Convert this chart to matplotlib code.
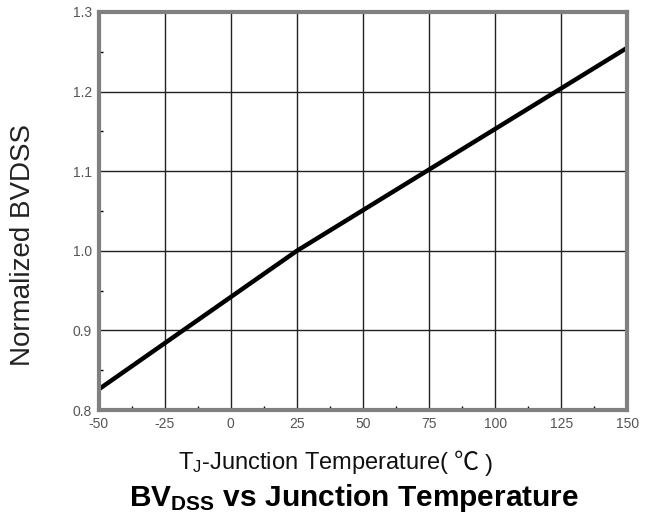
import matplotlib
import matplotlib.pyplot as plt
from matplotlib.ticker import MultipleLocator

matplotlib.use("Agg")

plt.rcParams["font.family"] = ["Liberation Sans", "Noto Sans CJK SC", "DejaVu Sans"]
plt.rcParams["mathtext.fontset"] = "custom"
plt.rcParams["mathtext.rm"] = "Liberation Sans"
plt.rcParams["mathtext.it"] = "Liberation Sans"
plt.rcParams["mathtext.bf"] = "Liberation Sans:bold"

# junction temperature (C) and normalized breakdown voltage
temps = [-50, -25, 0, 25, 50, 75, 100, 125, 150]
bvdss = [0.826, 0.884, 0.942, 1.0, 1.051, 1.102, 1.153, 1.204, 1.255]

x_ticks = [-50, -25, 0, 25, 50, 75, 100, 125, 150]
y_ticks = [0.8, 0.9, 1.0, 1.1, 1.2, 1.3]

fig = plt.figure(figsize=(6.54, 5.2), dpi=100)
ax = fig.add_axes([0.151, 0.2115, 0.808, 0.7655])

ax.plot(temps, bvdss, color="black", linewidth=3.2, solid_capstyle="butt")

ax.set_xlim(-50, 150)
ax.set_ylim(0.8, 1.3)
ax.set_xticks(x_ticks)
ax.set_yticks(y_ticks)
ax.set_xticklabels([str(t) for t in x_ticks])
ax.set_yticklabels([f"{v:.1f}" for v in y_ticks])
ax.xaxis.set_minor_locator(MultipleLocator(12.5))
ax.yaxis.set_minor_locator(MultipleLocator(0.05))

ax.grid(True, which="major", color="#222222", linewidth=1.0)
ax.tick_params(which="major", length=0, pad=5, labelsize=10, labelcolor="#555555")
ax.tick_params(which="minor", direction="in", length=3, width=1, color="black")

for side in ["left", "bottom", "top", "right"]:
    ax.spines[side].set_color("#808080")
    ax.spines[side].set_linewidth(3)

# y label
fig.text(0.035, 0.529, "Normalized BVDSS", rotation=90, ha="center", va="center",
         fontsize=20, color="#222222")

# x label, split so the degree sign can come from a CJK font
part1 = fig.text(0.272, 0.11, r"T$_\mathrm{J}$-Junction Temperature(",
                 ha="left", va="center", fontsize=17, color="#111111")
part2 = ax.annotate("℃", xy=(1, 0), xycoords=part1, xytext=(5, 0),
                    textcoords="offset pixels", ha="left", va="bottom",
                    fontsize=18, color="#111111", family=["Noto Sans CJK SC"],
                    annotation_clip=False)
ax.annotate(")", xy=(1, 0), xycoords=part2, xytext=(6, 0),
            textcoords="offset pixels", ha="left", va="bottom",
            fontsize=17, color="#111111", annotation_clip=False)

fig.text(0.541, 0.042, r"$\mathbf{BV_{DSS}}$ vs Junction Temperature",
         ha="center", va="center", fontsize=21.5, fontweight="bold")

plt.savefig("out.png", dpi=100)
plt.close()
